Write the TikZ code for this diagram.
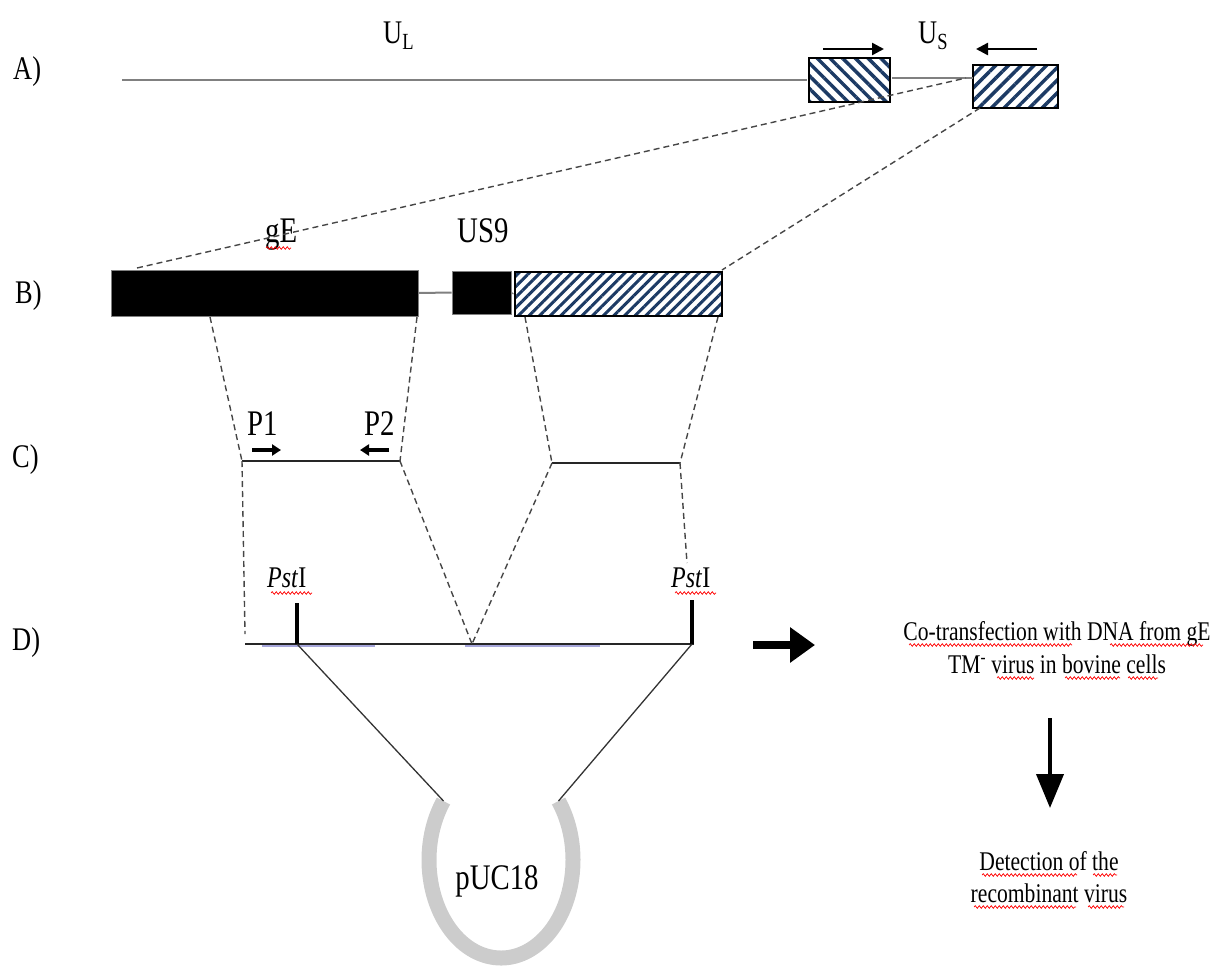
\documentclass[tikz,border=0pt]{standalone}
\usepackage{fontspec}
\setmainfont{Liberation Serif}
\usetikzlibrary{patterns.meta,arrows.meta,decorations.pathmorphing}
\definecolor{hatchblue}{RGB}{28,58,100}
\definecolor{dashgray}{RGB}{70,70,70}
\definecolor{ringgray}{RGB}{204,204,204}
\newcommand\sq[1]{\scalebox{0.8}[1]{#1}}
\begin{document}
\begin{tikzpicture}[x=1pt,y=-1pt,
  lab/.style={inner sep=0pt, font=\fontsize{33}{36}\selectfont},
  mid/.style={inner sep=0pt, font=\fontsize{36}{40}\selectfont},
  small/.style={inner sep=0pt, font=\fontsize{30}{33}\selectfont},
  side/.style={inner sep=0pt, font=\fontsize{27}{33}\selectfont, align=center},
  blackbox/.style={draw=gray, fill=black, line width=0.8pt, inner sep=0pt},
  hatchbox/.style={draw=black, line width=1.2pt, inner sep=0pt, pattern color=hatchblue},
  dna/.style={line width=1.6pt, black!85},
  dnagray/.style={line width=2pt, gray},
  dashline/.style={dashgray, line width=1.4pt, dash pattern=on 6pt off 4pt},
  tick/.style={line width=4pt, black},
  squig/.style={red, line width=0.7pt, decorate, decoration={snake, amplitude=1.3pt, segment length=4pt}}
]
\useasboundingbox (0,0) rectangle (1223,972);

% row labels
\node[lab, anchor=base west] (lA) at (13,79) {\sq{A)}};
\node[lab, anchor=base west] (lB) at (15,303) {\sq{B)}};
\node[lab, anchor=base west] (lC) at (12,467) {\sq{C)}};
\node[lab, anchor=base west] (lD) at (12,650) {\sq{D)}};

% ---------- row A ----------
\node[hatchbox, minimum width=81pt, minimum height=44pt,
  pattern={Lines[angle=-45, distance=9pt, line width=3.5pt]}] (a1) at (849.5,80) {};
\node[hatchbox, minimum width=85pt, minimum height=43pt,
  pattern={Lines[angle=45, distance=9pt, line width=3.5pt]}] (a2) at (1015.5,86.5) {};
\coordinate (aL) at (122,80);
\draw[dnagray] (aL) -- (a1.west);
\coordinate (aM) at (973,78);
\draw[dnagray] (a1.east |- aM) -- (aM);
\node[lab, anchor=base west] (UL) at (383,43) {\sq{U\textsubscript{L}}};
\node[lab, anchor=base west] (US) at (918,43) {\sq{U\textsubscript{S}}};
\coordinate (ar1) at (823,49); \coordinate (ar2) at (884,49);
\draw[line width=2.5pt, -{Triangle[length=12pt,width=12pt]}] (ar1) -- (ar2);
\coordinate (al1) at (1037,49); \coordinate (al2) at (976,49);
\draw[line width=2.5pt, -{Triangle[length=12pt,width=12pt]}] (al1) -- (al2);

% ---------- row B ----------
\node[blackbox, minimum width=307pt, minimum height=46pt] (b1) at (264.5,293) {};
\node[blackbox, minimum width=59pt, minimum height=43pt] (b2) at (481.5,292.5) {};
\node[hatchbox, minimum width=207pt, minimum height=44pt,
  pattern={Lines[angle=45, distance=7.5pt, line width=3pt]}] (b3) at (618.5,294) {};
\draw[line width=2pt, gray] (b1.east) -- (b2.west);
\draw[line width=1.2pt, gray] (b2.east) -- (b3.west);
\node[mid, anchor=base west] (gE) at (265,242) {\sq{gE}};
\node[mid, anchor=base west] (US9) at (457,242) {\sq{US9}};
\draw[squig] (266,248) -- (291,248);

% dashed A -> B
\coordinate (bA1) at (137,268);
\coordinate (aJ) at (966,78);
\draw[dashline] (bA1) -- (aJ);
\coordinate (aJ2) at (980,108);
\coordinate (bA2) at (722,270);
\draw[dashline] (aJ2) -- (bA2);

% ---------- row C ----------
\coordinate (c1l) at (242,461); \coordinate (c1r) at (400,461);
\coordinate (c2l) at (552,463); \coordinate (c2r) at (680,463);
\draw[dna] (c1l) -- (c1r);
\draw[dna] (c2l) -- (c2r);
\node[mid, anchor=base west] (P1) at (247,435) {\sq{P1}};
\node[mid, anchor=base west] (P2) at (364,435) {\sq{P2}};
\coordinate (p1a) at (252,450); \coordinate (p1b) at (281,450);
\draw[line width=3.5pt, -{Triangle[length=9pt,width=11pt]}] (p1a) -- (p1b);
\coordinate (p2a) at (389,450); \coordinate (p2b) at (360,450);
\draw[line width=3.5pt, -{Triangle[length=9pt,width=11pt]}] (p2a) -- (p2b);

% dashed B -> C
\coordinate (bb1) at (210,317); \coordinate (bb2) at (417,317);
\coordinate (bb3) at (525,317); \coordinate (bb4) at (718,317);
\draw[dashline] (bb1) -- (c1l);
\draw[dashline] (bb2) -- (c1r);
\draw[dashline] (bb3) -- (c2l);
\draw[dashline] (bb4) -- (c2r);

% ---------- row D ----------
\coordinate (dl) at (245,644); \coordinate (dr) at (694,644);
\coordinate (dv) at (472,644);
\draw[blue!60!black, opacity=0.35, line width=2pt] (262,646) -- (375,646);
\draw[blue!60!black, opacity=0.35, line width=2pt] (465,646) -- (600,646);
\draw[dna] (dl) -- (dr);
\coordinate (t1b) at (297,644); \coordinate (t1t) at (297,603);
\coordinate (t2b) at (692,644); \coordinate (t2t) at (692,600);
\draw[tick] (t1b) -- (t1t);
\draw[tick] (t2b) -- (t2t);
\node[small, anchor=base west] (pst1) at (267,587) {\sq{\textit{Pst}I}};
\node[small, anchor=base west] (pst2) at (671,587) {\sq{\textit{Pst}I}};
\draw[squig] (271,593) -- (312,593);
\draw[squig] (675,593) -- (716,593);

% dashed C -> D
\coordinate (dlt) at (245,634);
\draw[dashline] (c1l) -- (dlt);
\draw[dashline] (c1r) -- (dv);
\draw[dashline] (c2l) -- (dv);
\coordinate (drt) at (687,563);
\draw[dashline] (c2r) -- (drt);

% ---------- pUC18 ----------
\coordinate (ringc) at (501,860);
\draw[ringgray, line width=15pt] (ringc) ++(37:72pt and 98pt) arc[start angle=37, end angle=-217, x radius=72pt, y radius=98pt];
\coordinate (rl) at (443.5,801);
\coordinate (rr) at (558.5,801);
\draw[line width=1.3pt, black!80] (t1b) -- (rl);
\draw[line width=1.3pt, black!80] (t2b) -- (rr);
\node[mid, anchor=base] (puc) at (497,889) {\sq{pUC18}};

% ---------- right side ----------
\coordinate (bar1) at (753,645); \coordinate (bar2) at (815,645);
\draw[line width=8pt, -{Triangle[length=25pt,width=34pt]}] (bar1) -- (bar2);
\node[side, anchor=base] (co1) at (1057,640) {\sq{Co-transfection with DNA from gE}};
\node[side, anchor=base] (co2) at (1057,673) {\sq{TM\textsuperscript{-} virus in bovine cells}};
\draw[squig] (909,645) -- (1072,645);
\draw[squig] (1110,645) -- (1203,645);
\draw[squig] (997,678) -- (1034,678);
\draw[squig] (1065,678) -- (1120,678);
\draw[squig] (1128,678) -- (1158,678);
\coordinate (da1) at (1050,718); \coordinate (da2) at (1050,808);
\draw[line width=4pt, -{Triangle[length=34pt,width=27pt]}] (da1) -- (da2);
\node[side, anchor=base] (de1) at (1049,870) {\sq{Detection of the}};
\node[side, anchor=base] (de2) at (1049,902) {\sq{recombinant virus}};
\draw[squig] (982,875) -- (1077,875);
\draw[squig] (1093,875) -- (1117,875);
\draw[squig] (974,907) -- (1076,907);
\draw[squig] (1088,907) -- (1124,907);
\end{tikzpicture}
\end{document}
